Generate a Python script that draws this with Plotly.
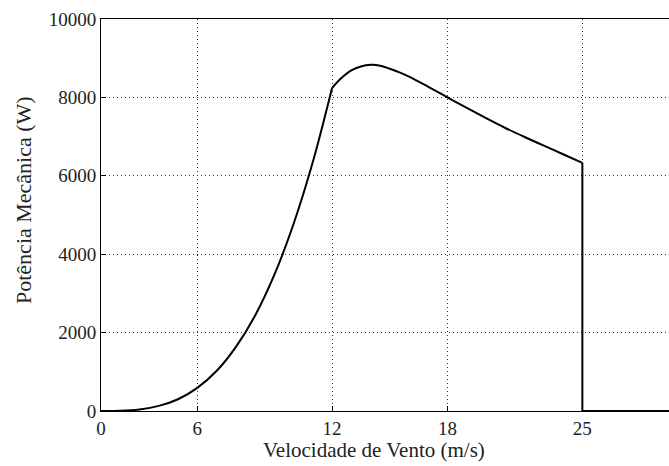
import plotly.graph_objects as go

# Wind speed (m/s) and mechanical power (W), three operating regions
v_rise = [0, 1, 2, 3, 4, 5, 6, 7, 8, 9, 10, 11, 12]
p_rise = [0, 5, 40, 130, 300, 590, 1020, 1630, 2430, 3470, 4770, 6350, 8240]

v_limited = [12, 12.5, 13, 13.5, 14, 14.5, 15, 15.5, 16, 17, 18, 19, 20, 21, 22, 23, 24, 25]
p_limited = [8240, 8500, 8690, 8790, 8830, 8810, 8730, 8640, 8530, 8270, 8000, 7730,
             7470, 7220, 6990, 6770, 6550, 6330]

v_cutout = [25, 25, 30]
p_cutout = [6330, 0, 0]

# Axis ticks
x_tickvals = [0, 5, 12, 18, 25]
x_ticktext = ["0", "6", "12", "18", "25"]
y_tickvals = [0, 2000, 4000, 6000, 8000, 10000]
y_ticktext = ["0", "2000", "4000", "6000", "8000", "10000"]

line_style = dict(color="black", width=2)

fig = go.Figure()
fig.add_trace(go.Scatter(x=v_rise, y=p_rise, mode="lines",
                         line=dict(shape="spline", **line_style)))
fig.add_trace(go.Scatter(x=v_limited, y=p_limited, mode="lines",
                         line=dict(shape="spline", **line_style)))
fig.add_trace(go.Scatter(x=v_cutout, y=p_cutout, mode="lines",
                         line=dict(shape="linear", **line_style)))

serif = "Liberation Serif, Times New Roman, serif"
W, H = 669, 466
L, R, T, B = 101, 0, 19, 55

fig.update_layout(
    width=W, height=H,
    margin=dict(l=L, r=R, t=T, b=B),
    paper_bgcolor="white", plot_bgcolor="white",
    showlegend=False,
    font=dict(family=serif, size=19, color="black"),
)

grid = dict(showgrid=True, gridcolor="#333333", gridwidth=1, griddash="1px,3px")

fig.update_xaxes(
    range=[0, 29.5],
    tickvals=x_tickvals, ticktext=x_ticktext,
    ticks="inside", ticklen=5, tickcolor="black",
    showline=True, linecolor="black", linewidth=1, mirror=True,
    zeroline=False,
    tickfont=dict(family=serif, size=19, color="#222222"),
    **grid,
)

fig.update_yaxes(
    range=[0, 10000],
    tickvals=y_tickvals, ticktext=y_ticktext,
    ticks="inside", ticklen=5, tickcolor="black",
    showline=True, linecolor="black", linewidth=1, mirror=False,
    zeroline=False,
    tickfont=dict(family=serif, size=19, color="#222222"),
    **grid,
)

plot_w = W - L - R
plot_h = H - T - B

# Axis titles
fig.add_annotation(
    text="Velocidade de Vento (m/s)",
    xref="paper", yref="paper",
    x=(374 - L) / plot_w, y=(H - B - 450) / plot_h,
    xanchor="center", yanchor="middle", showarrow=False,
    font=dict(family=serif, size=21, color="#222222"),
)
fig.add_annotation(
    text="Potência Mecânica (W)",
    xref="paper", yref="paper",
    x=(23 - L) / plot_w, y=(H - B - 200) / plot_h,
    xanchor="center", yanchor="middle", showarrow=False, textangle=-90,
    font=dict(family=serif, size=22, color="#222222"),
)

fig.write_html("out.html")
